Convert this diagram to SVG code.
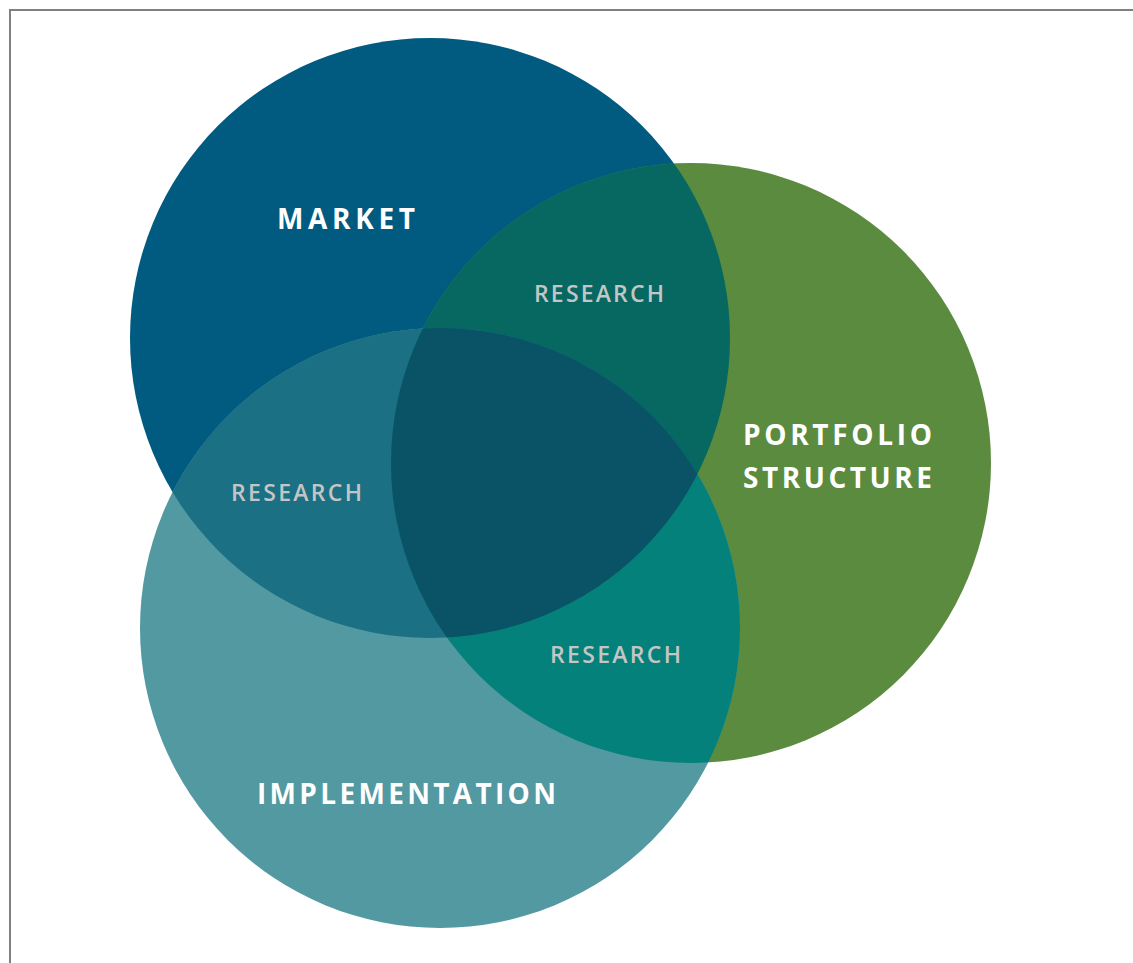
<svg xmlns="http://www.w3.org/2000/svg" width="1133" height="963" viewBox="0 0 1133 963">
  <style>
    .title { font-family: "Open Sans", Lato, "Liberation Sans", sans-serif; font-weight: 700; font-size: 28px; fill: #ffffff; }
    .sub { font-family: "Open Sans", Lato, "Liberation Sans", sans-serif; font-weight: 600; font-size: 23px; fill: #c4c6c6; }
    .frame { stroke: #808080; stroke-width: 2; fill: none; }
  </style>
  <defs>
    <clipPath id="cM"><circle cx="430" cy="338" r="300"/></clipPath>
    <clipPath id="cP"><circle cx="691" cy="463" r="300"/></clipPath>
  </defs>
  <rect x="0" y="0" width="1133" height="963" fill="#ffffff"/>
  <path class="frame" d="M10 970 L10 10 L1140 10"/>

  <g id="market">
    <circle cx="430" cy="338" r="300" fill="#015b80"/>
  </g>
  <g id="portfolio-structure">
    <circle cx="691" cy="463" r="300" fill="#5a8b3f"/>
  </g>
  <g id="implementation">
    <circle cx="440" cy="628" r="300" fill="#5299a1"/>
  </g>

  <g id="overlaps">
    <g clip-path="url(#cM)"><circle cx="691" cy="463" r="300" fill="#066860"/></g>
    <g clip-path="url(#cM)"><circle cx="440" cy="628" r="300" fill="#1b7083"/></g>
    <g clip-path="url(#cP)"><circle cx="440" cy="628" r="300" fill="#04817a"/></g>
    <g clip-path="url(#cM)"><g clip-path="url(#cP)"><circle cx="440" cy="628" r="300" fill="#0a5265"/></g></g>
  </g>

  <g id="labels">
    <text class="title" x="277" y="229" textLength="138" lengthAdjust="spacing">MARKET</text>
    <text class="title" x="743" y="445" textLength="189" lengthAdjust="spacing">PORTFOLIO</text>
    <text class="title" x="743" y="488" textLength="189" lengthAdjust="spacing">STRUCTURE</text>
    <text class="title" x="257" y="804" textLength="299" lengthAdjust="spacing">IMPLEMENTATION</text>
    <text class="sub" x="534" y="302" textLength="130" lengthAdjust="spacing">RESEARCH</text>
    <text class="sub" x="231" y="501" textLength="131" lengthAdjust="spacing">RESEARCH</text>
    <text class="sub" x="550" y="663" textLength="131" lengthAdjust="spacing">RESEARCH</text>
  </g>
</svg>
